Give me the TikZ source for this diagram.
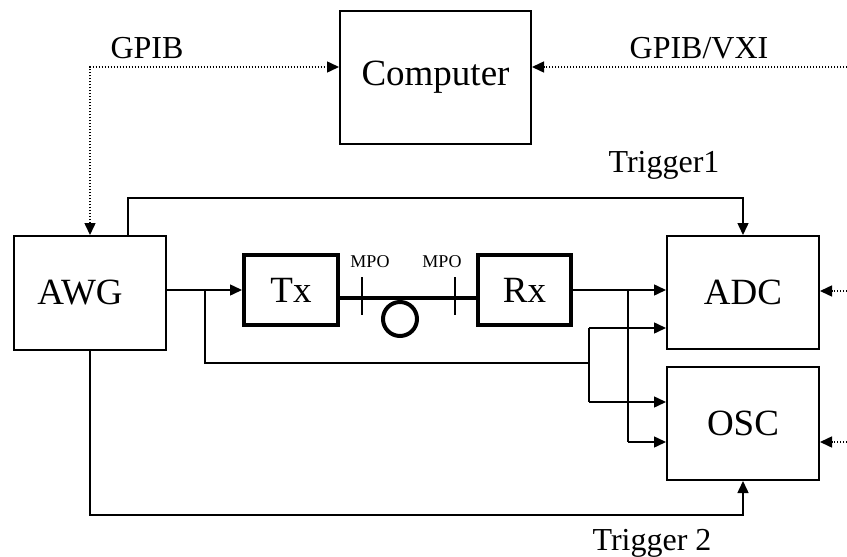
\documentclass[tikz,border=0pt]{standalone}
\usepackage{fontspec}
\setmainfont{Liberation Serif}
\usetikzlibrary{arrows.meta,positioning}
\tikzset{
  unit/.style={draw=black, line width=1pt, rectangle, minimum width=76pt, minimum height=56.5pt, inner sep=0pt, align=center, font=\fontsize{18.5}{20}\selectfont},
  optic/.style={draw=black, line width=2pt, rectangle, minimum width=46.5pt, minimum height=35pt, inner sep=0pt, font=\fontsize{18.5}{20}\selectfont},
  tip/.style={-{Triangle[length=6pt,width=5.5pt]}},
  signal/.style={line width=0.75pt, draw=black, tip},
  plain/.style={line width=0.75pt, draw=black},
  bus/.style={line width=0.75pt, draw=black, dash pattern=on 0.6pt off 0.9pt},
  fiber/.style={line width=1.8pt, draw=black},
  tag/.style={font=\fontsize{16}{18}\selectfont, inner sep=0pt},
  mpo/.style={font=\fontsize{9}{10}\selectfont, inner sep=0pt}
}

\begin{document}
\begin{tikzpicture}[x=0.5pt, y=-0.5pt, node distance=68pt]
  \useasboundingbox (0,0) rectangle (847,557);
  % instruments
  \node[unit, minimum width=95.5pt, minimum height=66.5pt] (pc) at (435.5,77.5) {Computer};
  \node[unit, minimum height=57pt] (awg) at (90,293) {AWG\hspace*{10pt}};
  \node[optic, minimum width=47pt] (tx) at (291,290) {Tx};
  \node[optic, right=of tx] (rx) {Rx};
  \node[unit] (adc) at (743,292.5) {ADC};
  \node[unit, below=8pt of adc] (osc) {OSC};
  % labels
  \node[tag] (gpib) at (147,48) {GPIB};
  \node[tag] (vxi) at (699,48) {GPIB/VXI};
  \node[tag] (trig1) at (664,165) {Trigger1};
  \node[tag] (trig2) at (652,543) {Trigger 2};
  \node[mpo] (mpoa) at (370,262) {MPO};
  \node[mpo] (mpob) at (442,262) {MPO};
  % helper points
  \coordinate (g) at (90,67);
  \coordinate (gr) at (847,67);
  \coordinate (t1) at (128,198);
  \coordinate (t2) at (90,515);
  \coordinate (sa) at (205,290);
  \coordinate (sb) at (205,363);
  \coordinate (ja) at (589,328);
  \coordinate (jb) at (589,363);
  \coordinate (jc) at (589,402);
  \coordinate (ka) at (628,290);
  \coordinate (kb) at (628,442);
  \coordinate (ra) at (847,291);
  \coordinate (rb) at (847,442);
  % control buses
  \draw[bus, {Triangle[length=6pt,width=5.5pt]}-{Triangle[length=6pt,width=5.5pt]}] (awg.north) -- (g) -- (pc.west |- g);
  \draw[bus, tip] (gr) -- (pc.east |- gr);
  \draw[bus, tip] (ra) -- (ra -| adc.east);
  \draw[bus, tip] (rb) -- (rb -| osc.east);
  % triggers
  \draw[signal] (awg.north -| t1) -- (t1) -- (t1 -| adc.north) -- (adc.north);
  \draw[signal] (awg.south) -- (t2) -| (osc.south);
  % optical link
  \draw[fiber] (tx.east |- 0,298) -- (rx.west |- 0,298);
  \draw[line width=0.75pt] (362,277) -- (362,315);
  \draw[line width=0.75pt] (455,277) -- (455,315);
  \draw[line width=2pt] (400,319) circle[radius=8.5pt];
  % electrical signals
  \draw[signal] (tx.west -| awg.east) -- (tx.west);
  \draw[plain] (sa) -- (sb) -- (jb);
  \draw[plain] (ja) -- (jc);
  \draw[signal] (ja) -- (ja -| adc.west);
  \draw[signal] (jc) -- (jc -| osc.west);
  \draw[signal] (rx.east) -- (rx.east -| adc.west);
  \draw[plain] (ka) -- (kb);
  \draw[signal] (kb) -- (kb -| osc.west);
\end{tikzpicture}
\end{document}
